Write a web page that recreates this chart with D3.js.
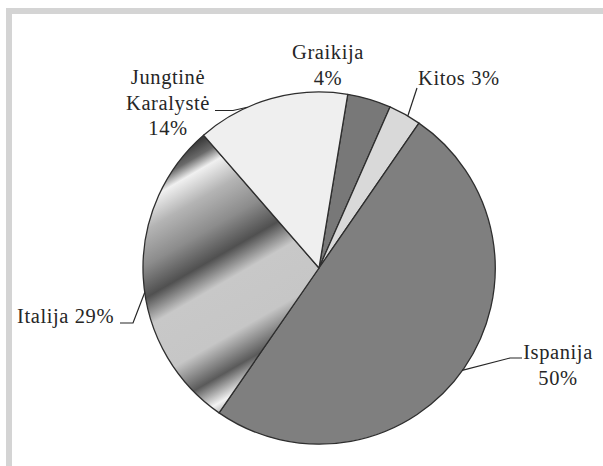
<!DOCTYPE html>
<html>
<head>
<meta charset="utf-8">
<script src="https://cdn.jsdelivr.net/npm/d3@7"></script>
<style>
  html, body { margin: 0; padding: 0; background: #ffffff; }
  svg { display: block; }
</style>
</head>
<body>
<svg id="chart" width="603" height="466"></svg>
<script>
// ---- data ----
const categories = ["Graikija", "Kitos", "Ispanija", "Italija", "Jungtinė Karalystė"];
const values = [4, 3, 50, 29, 14];
const labelLines = [["Graikija", "4%"], ["Kitos 3%"], ["Ispanija", "50%"], ["Italija 29%"], ["Jungtinė", "Karalystė", "14%"]];

// ---- layout / style ----
const W = 603, H = 466;
const cx = 319, cy = 268, R = 176;
const startDeg = 9.4;
const fills = ["#787878", "#d9d9d9", "#7f7f7f", "url(#metal)", "#efefef"];

const svg = d3.select("#chart");

// frame (L-shaped gray border)
svg.append("rect").attr("x", 6).attr("y", 8).attr("width", W - 6).attr("height", 6).attr("fill", "#d4d4d4");
svg.append("rect").attr("x", 6).attr("y", 8).attr("width", 6).attr("height", H - 8).attr("fill", "#d4d4d4");

// metallic gradient for Italija (coordinates relative to pie centre, since slices live in a translated group)
const defs = svg.append("defs");
const grad = defs.append("linearGradient").attr("id", "metal")
  .attr("gradientUnits", "userSpaceOnUse")
  .attr("x1", -119).attr("y1", -128)
  .attr("x2", 8.5).attr("y2", 92.8);
const stops = [
  [0.00, "#3c3c3c"], [0.05, "#6a6a6a"], [0.10, "#f0f0f0"], [0.20, "#b4b4b4"],
  [0.32, "#8c8c8c"], [0.43, "#505050"], [0.53, "#c8c8c8"], [0.72, "#c6c6c6"],
  [0.84, "#5a5a5a"], [0.93, "#f2f2f2"], [1.00, "#8a8a8a"]
];
stops.forEach(s => grad.append("stop").attr("offset", s[0]).attr("stop-color", s[1]));

const toRad = d => d * Math.PI / 180;
const pie = d3.pie().sort(null).value(d => d)
  .startAngle(toRad(startDeg)).endAngle(toRad(startDeg) + 2 * Math.PI);
const arcs = pie(values);
const arc = d3.arc().innerRadius(0).outerRadius(R);

const g = svg.append("g").attr("transform", `translate(${cx},${cy})`);
g.selectAll("path.slice").data(arcs).enter().append("path")
  .attr("class", "slice")
  .attr("d", arc)
  .attr("fill", (d, i) => fills[i])
  .attr("stroke", "#2e2e2e")
  .attr("stroke-width", 1.3)
  .attr("stroke-linejoin", "round");

// label layout: text anchor x, first baseline y, alignment, leader (label-side pts, pie angle in degrees)
const layout = [
  { x: 328, y: 59, anchor: "middle", leader: null },
  { x: 418, y: 85, anchor: "start", leader: { pts: [[417, 88]], ang: 30.3 } },
  { x: 558, y: 359, anchor: "middle", leader: { pts: [[522, 358], [510, 358]], ang: 125.6 } },
  { x: 17, y: 323, anchor: "start", leader: { pts: [[120, 323], [133, 323]], ang: 262 } },
  { x: 168, y: 84, anchor: "middle", leader: { pts: [[215, 110.5], [233, 110.5]], ang: 336 } }
];
const lineH = 25.5;

layout.forEach((L, i) => {
  const t = svg.append("text")
    .attr("x", L.x).attr("y", L.y)
    .attr("text-anchor", L.anchor)
    .attr("font-family", "'Liberation Serif', 'Times New Roman', serif")
    .attr("font-size", 20.5)
    .attr("letter-spacing", 0.6)
    .attr("fill", "#262626");
  labelLines[i].forEach((ln, k) => {
    t.append("tspan").attr("x", L.x).attr("y", L.y + k * lineH).text(ln);
  });
  if (L.leader) {
    const a = toRad(L.leader.ang);
    const edge = [cx + R * Math.sin(a), cy - R * Math.cos(a)];
    const pts = L.leader.pts.concat([edge]);
    svg.append("path")
      .attr("d", d3.line()(pts))
      .attr("fill", "none")
      .attr("stroke", "#262626")
      .attr("stroke-width", 1.2);
  }
});
</script>
</body>
</html>
